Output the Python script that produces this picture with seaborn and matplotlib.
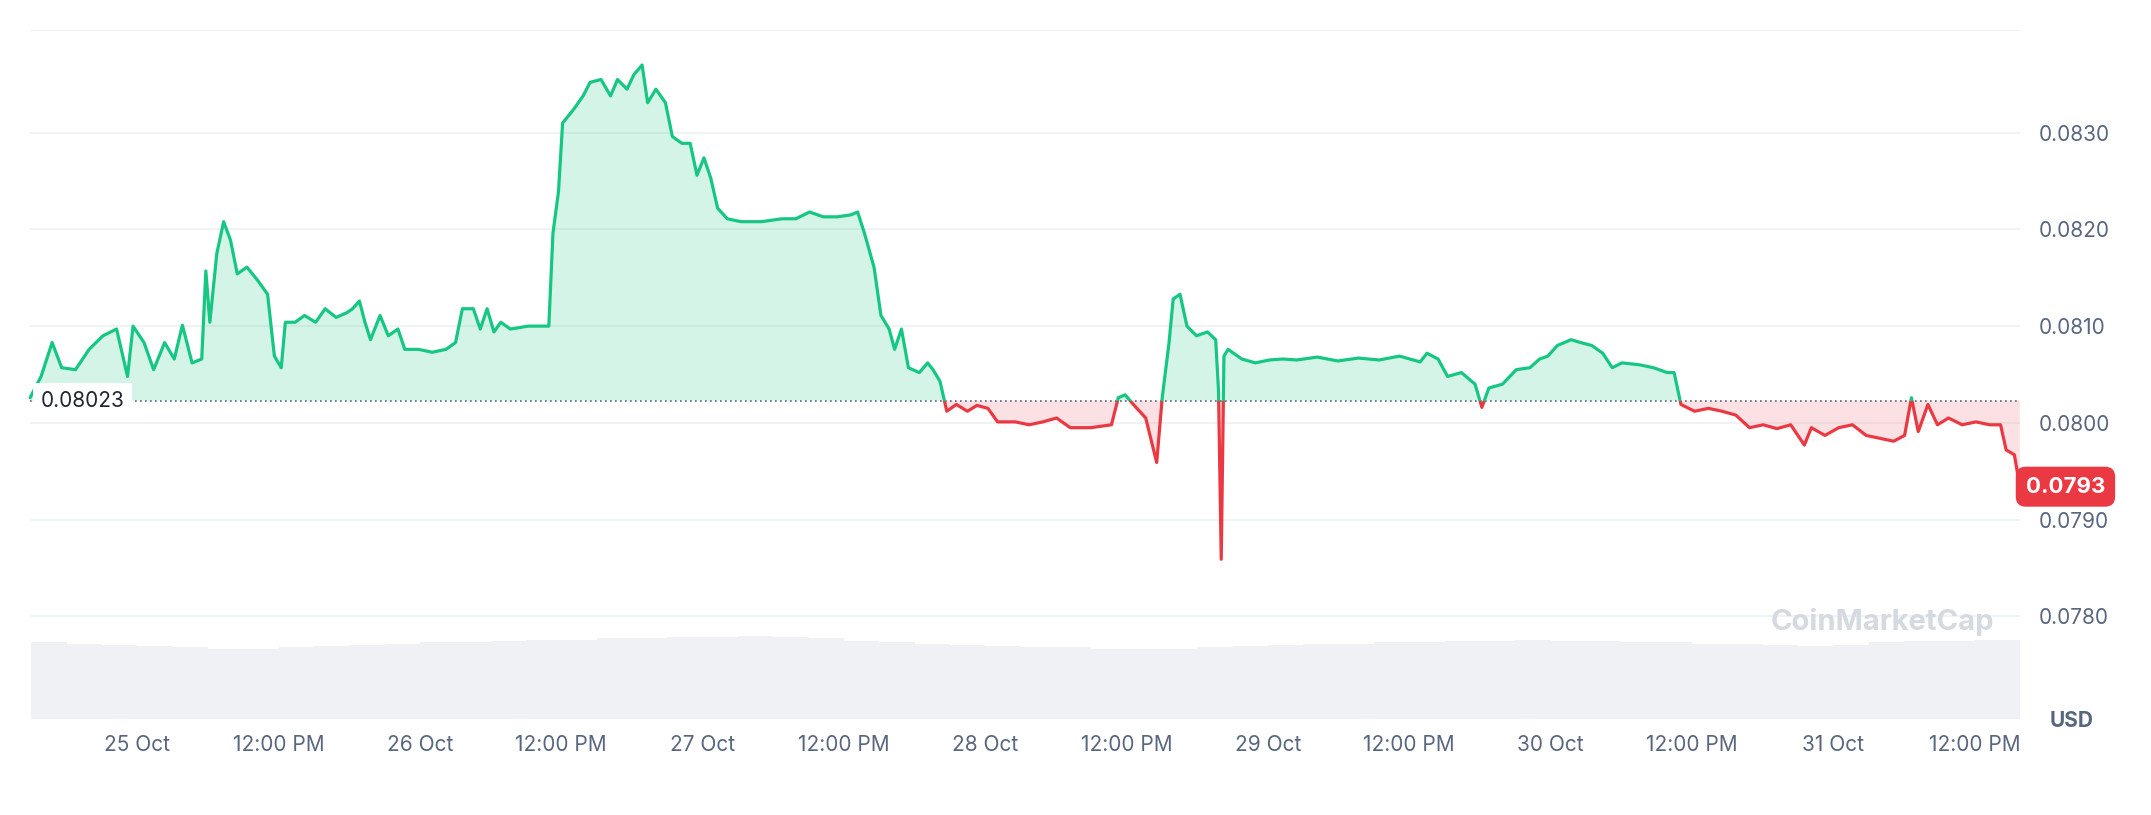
import numpy as np
import matplotlib
matplotlib.use("Agg")
import matplotlib.pyplot as plt
import seaborn as sns
from matplotlib.patches import Rectangle

hours = [-9.09,-8.16,-7.22,-6.41,-5.24,-4.08,-2.91,-1.75,-0.82,-0.35,0.58,1.40,2.33,3.15,3.84,4.66,5.48,5.83,6.17,6.76,7.34,7.92,8.50,9.32,10.25,11.07,11.65,12.23,12.58,13.40,14.21,15.15,15.96,16.89,17.82,18.29,18.87,19.34,19.81,20.62,21.32,22.14,22.72,23.88,25.05,26.21,27.03,27.61,28.54,29.13,29.71,30.29,30.87,31.69,33.20,34.95,35.30,35.77,36.12,37.05,37.86,38.45,39.38,40.19,40.78,41.59,42.17,42.87,43.34,44.04,44.85,45.44,46.25,46.95,47.53,48.12,48.70,49.28,50.10,51.26,53.01,54.76,55.92,57.09,58.25,59.42,60.58,61.17,61.75,62.56,63.15,63.84,64.31,64.89,65.48,66.41,67.11,67.57,68.16,68.74,69.55,70.49,71.30,72.23,73.05,74.56,75.73,76.89,78.06,79.22,80.97,82.72,83.30,83.88,84.58,85.63,86.56,87.03,87.61,87.96,88.54,89.13,89.94,90.87,91.57,91.81,92.04,92.27,92.62,93.79,94.95,96.12,97.28,98.45,100.19,101.94,103.69,105.44,107.18,108.93,109.51,110.45,111.26,112.43,113.59,114.17,114.76,115.92,117.09,118.25,119.07,119.77,120.58,121.75,122.56,123.50,124.43,125.24,126.06,127.57,128.74,129.90,130.49,131.07,132.23,133.40,134.56,135.73,136.89,138.06,139.22,140.39,141.55,142.14,143.30,144.47,145.63,146.80,147.96,149.13,150.06,150.64,151.22,152.04,152.85,153.79,154.95,156.12,157.28,158.21,158.68,159.38,159.84]
price_e4 = [802.6,804.8,808.3,805.7,805.5,807.6,809.0,809.7,804.8,810.0,808.3,805.5,808.3,806.6,810.1,806.2,806.6,815.7,810.4,817.5,820.8,818.9,815.4,816.1,814.7,813.3,806.9,805.7,810.4,810.4,811.1,810.4,811.8,810.9,811.4,811.8,812.6,810.4,808.6,811.1,809.0,809.7,807.6,807.6,807.3,807.6,808.3,811.8,811.8,809.7,811.8,809.4,810.4,809.7,810.0,810.0,819.6,823.9,831.0,832.4,833.8,835.2,835.5,833.8,835.5,834.5,836.0,837.0,833.1,834.5,833.1,829.6,828.9,828.9,825.6,827.4,825.3,822.2,821.1,820.8,820.8,821.1,821.1,821.8,821.3,821.3,821.5,821.8,819.6,816.1,811.1,809.7,807.6,809.7,805.7,805.2,806.2,805.5,804.3,801.2,801.9,801.2,801.8,801.5,800.1,800.1,799.8,800.1,800.5,799.5,799.5,799.8,802.6,802.9,801.9,800.5,795.9,802.6,808.3,812.8,813.3,810.0,809.0,809.4,808.6,803.3,785.9,806.9,807.6,806.6,806.2,806.5,806.6,806.5,806.8,806.4,806.7,806.5,806.9,806.3,807.2,806.6,804.8,805.2,804.0,801.6,803.6,804.0,805.5,805.7,806.6,806.9,808.0,808.6,808.3,808.0,807.2,805.7,806.2,806.0,805.7,805.2,805.2,801.9,801.2,801.5,801.2,800.8,799.5,799.8,799.4,799.8,797.7,799.5,798.7,799.5,799.8,798.7,798.4,798.1,798.7,802.6,799.1,801.9,799.8,800.5,799.8,800.1,799.8,799.8,797.2,796.7,793.4]
price = np.array(price_e4) / 1e4
t = np.array(hours)
base_price = 0.08023
last_label = "0.0793"

vol_hours = np.arange(-9, 160, 3.0)
vol_vals = [60,59,58,57,56,55,55,56,57,58,59,60,60,61,62,62,63,63,64,64,65,64,63,61,60,59,58,57,56,56,55,55,55,56,57,58,59,59,60,60,61,61,62,61,61,60,60,59,59,58,57,58,60,61,61,62,62,62,62,61,61,61,61,62,62,62,63,64,65,66,67,67,66,64,63,62,62,62,61,61,61,61,60,60,60,59,58,57,56,55,54,54,53,52,52,52,51,51,51,50,50,50,50,50,51,51,52]
vol_vals = vol_vals[:len(vol_hours)]

xticks = [0, 12, 24, 36, 48, 60, 72, 84, 96, 108, 120, 132, 144, 156]
xlabels = ["25 Oct", "12:00 PM", "26 Oct", "12:00 PM", "27 Oct", "12:00 PM", "28 Oct",
           "12:00 PM", "29 Oct", "12:00 PM", "30 Oct", "12:00 PM", "31 Oct", "12:00 PM"]
yticks = [0.0780, 0.0790, 0.0800, 0.0810, 0.0820, 0.0830]

green = "#16c784"
red = "#ea3943"
gray = "#58667e"

sns.set_style("white")
plt.rcParams['font.family'] = ['Inter', 'DejaVu Sans']

fig = plt.figure(figsize=(21.51, 8.15), dpi=100)
ax = fig.add_axes([0.014, 0.118, 0.925, 0.845])
x0, x1 = -9.09, 159.84
y0, y1 = 0.07694, 0.08406
ax.set_xlim(x0, x1)
ax.set_ylim(y0, y1)

ax2 = ax.twinx()
ax2.set_ylim(0, 540)
ax2.bar(vol_hours, vol_vals, width=3.0, color="#eff1f4", align="edge", linewidth=0)
ax2.set_yticks([])
for s in ax2.spines.values():
    s.set_visible(False)
ax.set_zorder(ax2.get_zorder() + 1)
ax.patch.set_visible(False)

ax.fill_between(t, price, base_price, where=price >= base_price, interpolate=True,
                color=green, alpha=0.18, linewidth=0)
ax.fill_between(t, price, base_price, where=price <= base_price, interpolate=True,
                color=red, alpha=0.15, linewidth=0)

sns.lineplot(x=t, y=price, ax=ax, color=green, linewidth=2.3)
sns.lineplot(x=t, y=price, ax=ax, color=red, linewidth=2.3)
lines = ax.get_lines()
up = Rectangle((x0 - 10, base_price), 200, 1, transform=ax.transData)
dn = Rectangle((x0 - 10, base_price - 1), 200, 1, transform=ax.transData)
lines[0].set_clip_path(up)
lines[1].set_clip_path(dn)

ax.axhline(base_price, color="#58667e", linestyle=(0, (1, 2)), linewidth=1.2, zorder=1)

ax.set_yticks(yticks)
ax.set_yticklabels([f"{v:.4f}" for v in yticks])
ax.yaxis.tick_right()
ax.set_xticks(xticks)
ax.set_xticklabels(xlabels)
ax.tick_params(axis="both", length=0, labelsize=15, colors=gray, pad=12)
ax.tick_params(axis="y", pad=14)
ax.grid(axis="y", color="#eff2f5", linewidth=1.3)
for k in ["left", "right", "top", "bottom"]:
    ax.spines[k].set_visible(False)
ax.axhline(y1, color="#eff2f5", linewidth=1.5)

ax.text(x0 + 0.9, base_price, f"{base_price:.5f}", ha="left", va="center", fontsize=15,
        color="#222531", bbox=dict(boxstyle="square,pad=0.35", fc="white", ec="none"), zorder=5)
ax.text(1.003, (price[-1] - y0) / (y1 - y0), last_label, transform=ax.transAxes, ha="left",
        va="center", fontsize=16, color="white", fontweight="bold",
        bbox=dict(boxstyle="round,pad=0.45", fc=red, ec="none"))
fig.text(0.963, 0.115, "USD", ha="center", va="center", fontsize=15, color=gray, fontweight="bold")
ax.text(0.875, 0.14, "CoinMarketCap", transform=ax.transAxes, fontsize=21, color="#d5d9e0",
        fontweight="bold", ha="left", va="center")

fig.savefig("out.png", dpi=100)
